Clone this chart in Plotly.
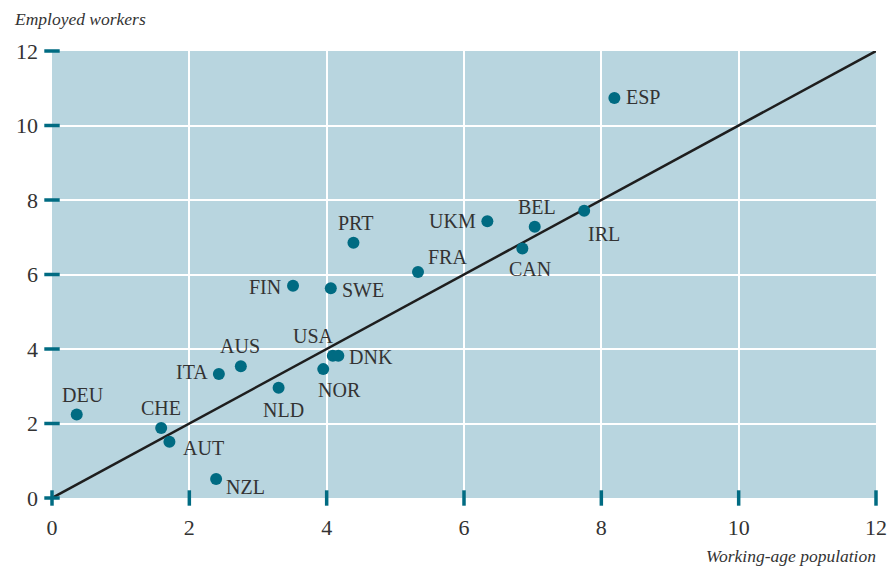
import plotly.graph_objects as go

countries = ["DEU", "CHE", "AUT", "NZL", "ITA", "AUS", "NLD", "FIN", "NOR", "SWE",
             "USA", "DNK", "PRT", "FRA", "UKM", "CAN", "BEL", "IRL", "ESP"]
working_age = [0.36, 1.59, 1.71, 2.39, 2.43, 2.75, 3.30, 3.51, 3.95, 4.06,
               4.09, 4.17, 4.39, 5.33, 6.34, 6.85, 7.03, 7.75, 8.19]
employed = [2.24, 1.88, 1.51, 0.51, 3.33, 3.54, 2.96, 5.70, 3.46, 5.63,
            3.82, 3.82, 6.85, 6.07, 7.43, 6.70, 7.28, 7.71, 10.74]
line_x = [0, 12]
line_y = [0, 12]
tick_vals = [0, 2, 4, 6, 8, 10, 12]

# label placement (style): (xanchor, yanchor, xshift, yshift)
label_pos = {
    "DEU": ("center", "bottom", 6, 7), "CHE": ("center", "bottom", 0, 7),
    "AUT": ("left", "middle", 12, -6), "NZL": ("left", "middle", 8, -8),
    "ITA": ("right", "middle", -9, 2), "AUS": ("center", "bottom", -1, 7),
    "NLD": ("center", "top", 5, -9), "FIN": ("right", "middle", -10, -1),
    "NOR": ("center", "top", 16, -8), "SWE": ("left", "middle", 9, -2),
    "USA": ("right", "bottom", 3, 7), "DNK": ("left", "middle", 9, -1),
    "PRT": ("center", "bottom", 2, 7), "FRA": ("left", "bottom", 8, 2),
    "UKM": ("right", "middle", -9, 0), "CAN": ("center", "top", 8, -8),
    "BEL": ("center", "bottom", 2, 7), "IRL": ("left", "top", 2, -10),
    "ESP": ("left", "middle", 10, 1),
}

teal = "#006b82"
txt = "#333333"
serif = "Liberation Serif, DejaVu Serif, serif"

fig = go.Figure()
fig.add_trace(go.Scatter(x=line_x, y=line_y, mode="lines",
                         line=dict(color="#1e1e1e", width=2.5), hoverinfo="skip"))
fig.add_trace(go.Scatter(x=working_age, y=employed, mode="markers",
                         marker=dict(color=teal, size=12), hovertext=countries))
# tick dashes
fig.add_trace(go.Scatter(x=[0] * len(tick_vals), y=tick_vals, mode="markers",
                         marker=dict(symbol="line-ew", size=11, line=dict(color=teal, width=3.5)),
                         cliponaxis=False, hoverinfo="skip"))
fig.add_trace(go.Scatter(x=tick_vals, y=[0] * len(tick_vals), mode="markers",
                         marker=dict(symbol="line-ns", size=11, line=dict(color=teal, width=3.5)),
                         cliponaxis=False, hoverinfo="skip"))

for c, x, y in zip(countries, working_age, employed):
    xa, ya, xs, ys = label_pos[c]
    fig.add_annotation(x=x, y=y, text=c, showarrow=False, xanchor=xa, yanchor=ya,
                       xshift=xs, yshift=ys, font=dict(family=serif, size=20, color=txt))

fig.add_annotation(xref="paper", yref="paper", x=-0.049, y=1.045, xanchor="left", yanchor="bottom",
                   text="<i>Employed workers</i>", showarrow=False,
                   font=dict(family=serif, size=17.5, color=txt))
fig.add_annotation(xref="paper", yref="paper", x=1.003, y=-0.103, xanchor="right", yanchor="top",
                   text="<i>Working-age population</i>", showarrow=False,
                   font=dict(family=serif, size=17.5, color=txt))

fig.update_layout(
    width=891, height=569,
    margin=dict(l=52, r=15, t=51, b=71),
    plot_bgcolor="#b8d5df", paper_bgcolor="white",
    showlegend=False,
    xaxis=dict(range=[0, 12], tickvals=tick_vals, showgrid=True, gridcolor="white", gridwidth=1.5,
               zeroline=False, showline=False, ticks="", ticklabelstandoff=14, automargin=False,
               tickfont=dict(family=serif, size=22, color=txt)),
    yaxis=dict(range=[0, 12], tickvals=tick_vals, showgrid=True, gridcolor="white", gridwidth=1.5,
               zeroline=False, showline=False, ticks="", ticklabelstandoff=13, automargin=False,
               tickfont=dict(family=serif, size=22, color=txt)),
)
fig.write_html("out.html", config={"displayModeBar": False},
               post_script="document.body.style.margin='0';document.body.style.overflow='hidden';")
